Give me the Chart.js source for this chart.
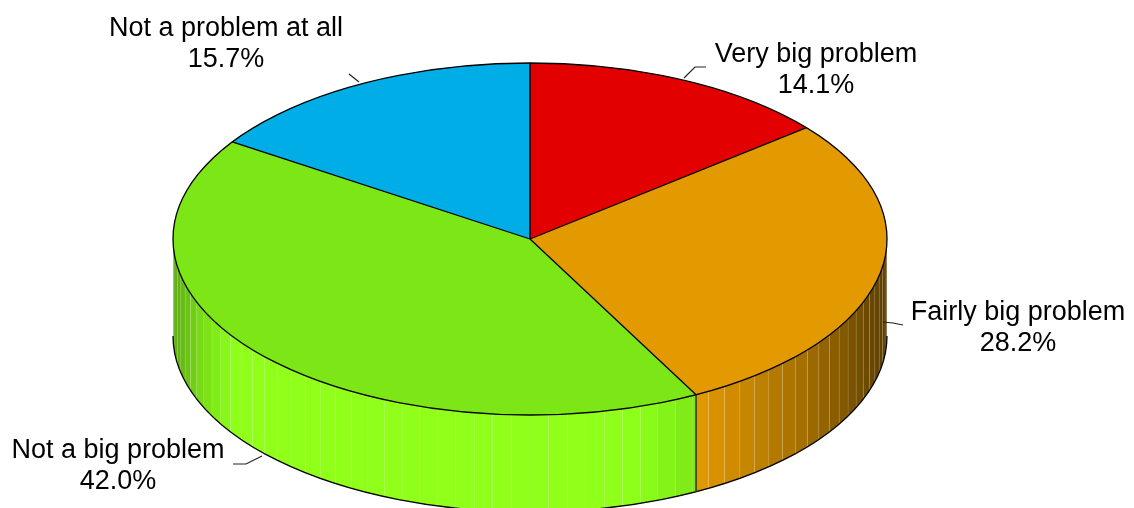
<!DOCTYPE html>
<html>
<head>
<meta charset="utf-8">
<title>How big a problem</title>
<script src="https://cdn.jsdelivr.net/npm/chart.js@4"></script>
<style>
  html, body { margin:0; padding:0; background:#fff; }
  canvas { display:block; }
</style>
</head>
<body>
<canvas id="pie" width="1134" height="508"></canvas>
<script>
const categories = ['Very big problem','Fairly big problem','Not a big problem','Not a problem at all']
const shares = [14.1,28.2,42.0,15.7]
const colors = ['#E20000','#E39A00','#7DE616','#00ADE6']

// the flattened disc on the page
const D = { cx:530, cy:239, rx:357, ry:176, depth:97, step:Math.PI/60 }

// wall brightness against horizontal position (-1 left edge .. 1 right edge)
const wallLight = [[-1,.74],[-.924,.95],[-.81,1.15],[.25,1.15],[.42,1.03],[.468,1],[.588,.89],[.756,.73],[.896,.55],[1,.4]]

// label anchors and leader lines, one per category
const labelPos = [[816,62],[1018,320],[118,458],[226,36]]
const leaders = [
  [[684,78],[695,67],[706,67]],
  [[883,322],[893,323],[903,325]],
  [[262,456],[246,464],[233,464]],
  [[359,82],[349,74]]
]

function rgb(hex) {
  const n = parseInt(hex.slice(1),16)
  return [n>>16,(n>>8)&255,n&255]
}

function lightAt(n) {
  for(let i=1;i<wallLight.length;i++){
    const [x0,f0]=wallLight[i-1],[x1,f1]=wallLight[i]
    if(n<=x1) return f0+(f1-f0)*(n-x0)/(x1-x0)
  }
  return wallLight[wallLight.length-1][1]
}

function px(a) { return D.cx+D.rx*Math.cos(a) }
function py(a) { return D.cy+D.ry*Math.sin(a) }

function drawWall(ctx, arcs) {
  arcs.forEach((arc,i)=>{
    const base=rgb(colors[i])
    const from=Math.max(arc.startAngle,0), to=Math.min(arc.endAngle,Math.PI)
    if(to<=from) return
    let a=Math.floor(from/D.step)*D.step
    while(a<to){
      const s=Math.max(a,from), e=Math.min(a+D.step,to)
      const f=lightAt(Math.cos((s+e)/2))
      ctx.fillStyle=`rgb(${base.map(c=>Math.min(255,Math.round(c*f))).join(',')})`
      ctx.beginPath()
      ctx.moveTo(px(s),py(s))
      ctx.lineTo(px(e),py(e))
      ctx.lineTo(px(e),py(e)+D.depth)
      ctx.lineTo(px(s),py(s)+D.depth)
      ctx.closePath()
      ctx.fill()
      // faint seam between strips
      ctx.strokeStyle='rgba(255,255,255,0.1)'
      ctx.lineWidth=1
      ctx.beginPath()
      ctx.moveTo(px(s),py(s))
      ctx.lineTo(px(s),py(s)+D.depth)
      ctx.stroke()
      a+=D.step
    }
  })
}

function drawOutlines(ctx, arcs) {
  ctx.strokeStyle='#000'
  ctx.lineWidth=1.3
  ctx.beginPath()
  ctx.ellipse(D.cx,D.cy,D.rx,D.ry,0,0,Math.PI*2)
  ctx.stroke()
  ctx.beginPath()
  ctx.ellipse(D.cx,D.cy+D.depth,D.rx,D.ry,0,0,Math.PI)
  ctx.stroke()
  arcs.forEach(arc=>{
    ctx.beginPath()
    ctx.moveTo(D.cx,D.cy)
    ctx.lineTo(px(arc.startAngle),py(arc.startAngle))
    ctx.stroke()
    // wall edge where a slice boundary faces the viewer
    const s=arc.startAngle
    if(s>0 && s<Math.PI){
      ctx.strokeStyle='#3a3a1c'
      ctx.lineWidth=1.6
      ctx.beginPath()
      ctx.moveTo(px(s),py(s))
      ctx.lineTo(px(s),py(s)+D.depth)
      ctx.stroke()
      ctx.strokeStyle='#000'
      ctx.lineWidth=1.3
    }
  })
}

function drawLabels(ctx) {
  ctx.strokeStyle='#222'
  ctx.lineWidth=1.2
  leaders.forEach(pts=>{
    ctx.beginPath()
    pts.forEach((p,i)=>i?ctx.lineTo(p[0],p[1]):ctx.moveTo(p[0],p[1]))
    ctx.stroke()
  })
  ctx.fillStyle='#000'
  ctx.font='27px "Liberation Sans", Arial, sans-serif'
  ctx.textAlign='center'
  ctx.textBaseline='alphabetic'
  categories.forEach((name,i)=>{
    const [x,y]=labelPos[i]
    ctx.fillText(name,x,y)
    ctx.fillText(shares[i].toFixed(1)+'%',x,y+31)
  })
}

// Chart.js only knows round pies, so squash it onto the disc while it draws
const disc3d = {
  id:'disc3d',
  beforeDatasetsDraw(chart) {
    const ctx=chart.ctx, arcs=chart.getDatasetMeta(0).data
    drawWall(ctx,arcs)
    const el=arcs[0], R=el.outerRadius
    ctx.save()
    ctx.translate(D.cx,D.cy)
    ctx.scale(D.rx/R,D.ry/R)
    ctx.translate(-el.x,-el.y)
  },
  afterDatasetsDraw(chart) {
    const ctx=chart.ctx, arcs=chart.getDatasetMeta(0).data
    ctx.restore()
    drawOutlines(ctx,arcs)
    drawLabels(ctx)
  }
}

new Chart(document.getElementById('pie'),{
  type:'pie',
  data:{ labels:categories,
    datasets:[{ data:shares,backgroundColor:colors,borderWidth:0,hoverOffset:0 }]
  },
  options:{
    responsive:false,animation:false,
    layout:{padding:0},
    plugins:{ legend:{display:false},tooltip:{enabled:false} }
  },
  plugins:[disc3d]
})
</script>
</body>
</html>
